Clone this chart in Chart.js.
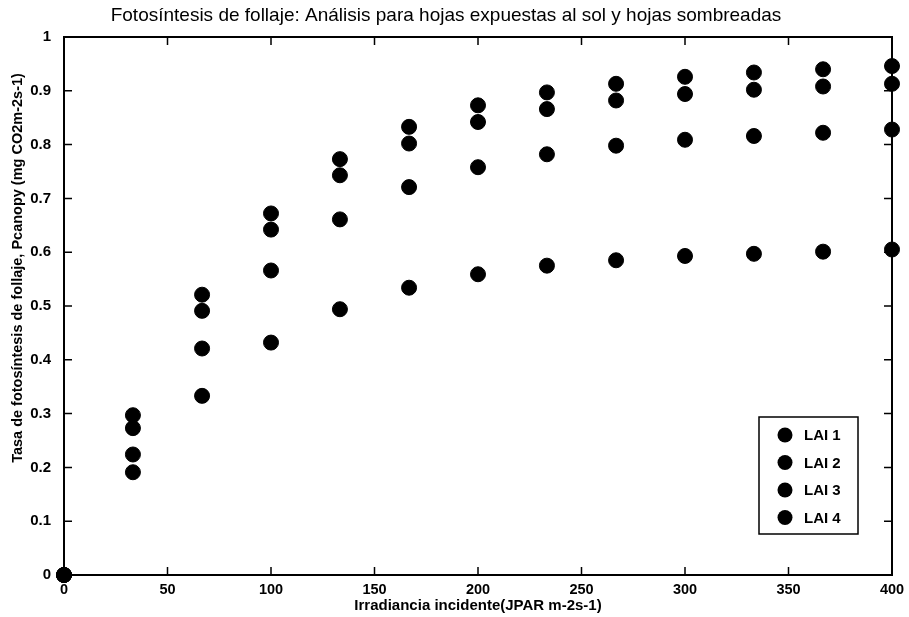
<!DOCTYPE html>
<html lang="es">
<head>
<meta charset="UTF-8">
<title>Fotosíntesis de follaje</title>
<script src="https://cdn.jsdelivr.net/npm/chart.js"></script>
<style>
  html, body { margin: 0; padding: 0; background: #fff; }
  #wrap { width: 909px; height: 617px; }
</style>
</head>
<body>
<div id="wrap"><canvas id="grafico"></canvas></div>
<script>
// irradiancia (JPAR m-2s-1)
const irradiancia = [0, 33.3, 66.7, 100, 133.3, 166.7, 200, 233.3, 266.7, 300, 333.3, 366.7, 400]

// tasa de fotosintesis por LAI
const lai1 = [0, 0.191, 0.333, 0.432, 0.494, 0.534, 0.559, 0.575, 0.585, 0.593, 0.597, 0.601, 0.605]
const lai2 = [0, 0.224, 0.421, 0.566, 0.661, 0.721, 0.758, 0.782, 0.798, 0.809, 0.816, 0.822, 0.828]
const lai3 = [0, 0.273, 0.491, 0.642, 0.743, 0.802, 0.842, 0.866, 0.882, 0.894, 0.902, 0.908, 0.913]
const lai4 = [0, 0.297, 0.521, 0.672, 0.773, 0.833, 0.873, 0.897, 0.913, 0.926, 0.934, 0.940, 0.946]

const etiquetas = ['LAI 1', 'LAI 2', 'LAI 3', 'LAI 4']
const ticksX = [0, 50, 100, 150, 200, 250, 300, 350, 400]
const ticksY = [0, 0.1, 0.2, 0.3, 0.4, 0.5, 0.6, 0.7, 0.8, 0.9, 1]

const tituloY = 'Tasa de fotosíntesis de follaje, Pcanopy (mg CO2m-2s-1)'
const fuente = "'Liberation Sans', Arial, sans-serif"

function puntos(serie) {
    return serie.map((v, i) => ({ x: irradiancia[i], y: v }))
}

// caja del eje + marcas hacia dentro (estilo matlab), titulo Y y leyenda
const cajaMatlab = {
    id: 'cajaMatlab',
    afterDatasetsDraw(chart) {
        const c = chart.ctx
        const a = chart.chartArea
        const sx = chart.scales.x
        const sy = chart.scales.y
        c.save()
        c.strokeStyle = '#000'
        c.lineWidth = 2
        c.strokeRect(a.left, a.top, a.right - a.left, a.bottom - a.top)
        c.lineWidth = 1.5
        c.beginPath()
        ticksX.forEach(v => {
            const px = sx.getPixelForValue(v)
            c.moveTo(px, a.bottom); c.lineTo(px, a.bottom - 8)
            c.moveTo(px, a.top); c.lineTo(px, a.top + 8)
        })
        ticksY.forEach(v => {
            const py = sy.getPixelForValue(v)
            c.moveTo(a.left, py); c.lineTo(a.left + 8, py)
            c.moveTo(a.right, py); c.lineTo(a.right - 8, py)
        })
        c.stroke()

        // titulo del eje Y
        c.save()
        c.translate(18, 268)
        c.rotate(-Math.PI / 2)
        c.fillStyle = '#000'
        c.font = 'bold 14.5px ' + fuente
        c.textAlign = 'center'
        c.textBaseline = 'middle'
        c.fillText(tituloY, 0, 0)
        c.restore()

        // leyenda
        const ancho = 99, alto = 117
        const x0 = a.right - 34 - ancho
        const y0 = a.bottom - 41 - alto
        c.fillStyle = '#fff'
        c.fillRect(x0, y0, ancho, alto)
        c.lineWidth = 1.5
        c.strokeRect(x0, y0, ancho, alto)
        c.font = 'bold 15px ' + fuente
        c.textBaseline = 'middle'
        chart.data.datasets.forEach((ds, i) => {
            const yy = y0 + 18 + i * 27.5
            c.fillStyle = '#000'
            c.beginPath()
            c.arc(x0 + 26, yy, 7.5, 0, Math.PI * 2)
            c.fill()
            c.fillText(ds.label, x0 + 45, yy + 1)
        })
        c.restore()
    }
}

const ctx = document.getElementById('grafico')

new Chart(ctx, {
    type: 'scatter',
    data: {
        datasets: [lai1, lai2, lai3, lai4].map((serie, i) => ({
            label: etiquetas[i],
            data: puntos(serie),
            backgroundColor: '#000',
            borderColor: '#000',
            pointRadius: 7.5,
            pointHoverRadius: 7.5,
            clip: false
        }))
    },
    options: {
        responsive: true,
        maintainAspectRatio: false,
        animation: false,
        layout: {
            padding: { left: 0, right: 17, top: 0, bottom: 2 }
        },
        plugins: {
            legend: { display: false },
            tooltip: { enabled: false },
            title: {
                display: true,
                text: 'Fotosíntesis de follaje: Análisis para hojas expuestas al sol y hojas sombreadas',
                color: '#000',
                font: { family: fuente, size: 19, weight: 'normal' },
                padding: { top: 4, bottom: 10.2 }
            }
        },
        scales: {
            x: {
                type: 'linear',
                min: 0,
                max: 400,
                afterBuildTicks: (s) => { s.ticks = ticksX.map(v => ({ value: v })) },
                afterFit: (s) => { s.height = 40 },
                grid: { display: false, tickLength: 6 },
                border: { display: false },
                ticks: {
                    color: '#000',
                    padding: 0,
                    maxRotation: 0,
                    font: { family: fuente, size: 14.5, weight: 'bold' }
                },
                title: {
                    display: true,
                    text: 'Irradiancia incidente(JPAR m-2s-1)',
                    color: '#000',
                    padding: { top: 0, bottom: 0 },
                    font: { family: fuente, size: 15, weight: 'bold' }
                }
            },
            y: {
                type: 'linear',
                min: 0,
                max: 1,
                afterBuildTicks: (s) => { s.ticks = ticksY.map(v => ({ value: v })) },
                afterFit: (s) => { s.width = 64 },
                grid: { display: false },
                border: { display: false },
                ticks: {
                    color: '#000',
                    padding: 5,
                    callback: (v) => (v === 0 || v === 1) ? String(v) : v.toFixed(1),
                    font: { family: fuente, size: 15, weight: 'bold' }
                }
            }
        }
    },
    plugins: [cajaMatlab]
})
</script>
</body>
</html>
